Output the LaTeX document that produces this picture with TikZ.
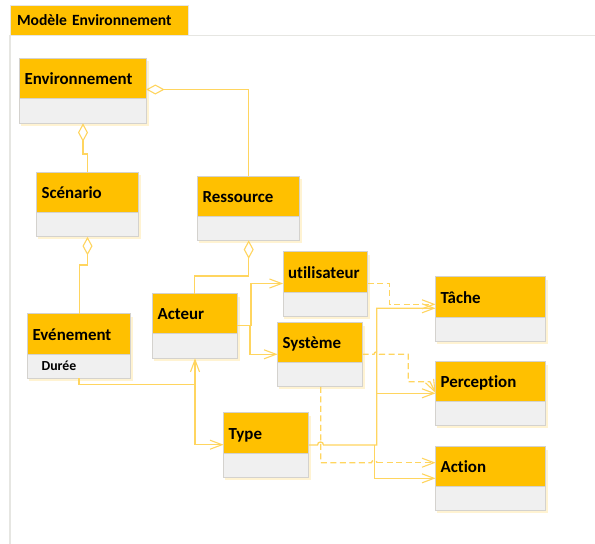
\documentclass[tikz,border=0pt]{standalone}
\usepackage{fontspec}
\setmainfont[Ligatures=NoCommon]{Carlito}
\usetikzlibrary{arrows.meta}
\definecolor{hdr}{HTML}{FFC000}
\definecolor{bdy}{HTML}{F0F0F0}
\definecolor{edge}{HTML}{D4D2CE}
\definecolor{wire}{HTML}{FFD55F}
\definecolor{glow}{HTML}{FFF3D2}
\definecolor{frameline}{HTML}{E6E6E2}
\tikzset{
  x=1pt,y=-1pt,
  hdrbox/.style={draw=edge,line width=0.9pt,fill=hdr,anchor=north west,outer sep=0pt,inner xsep=5pt,inner ysep=0pt,
    text height=14pt,text depth=2pt,font=\fontsize{16.9}{18}\selectfont\bfseries,align=left},
  bdybox/.style={draw=edge,line width=0.9pt,fill=bdy,anchor=north west,outer sep=0pt,inner xsep=14pt,inner ysep=0pt,
    text height=11pt,text depth=3pt,font=\fontsize{13.8}{15}\selectfont\bfseries,align=left},
  conn/.style={draw=wire,line width=1.3pt,line join=miter},
  dep/.style={conn,dash pattern=on 6pt off 3.5pt},
  vee/.style={-{Straight Barb[length=12pt,width=9pt,line width=1.1pt]}},
  dia/.style={{Diamond[open,fill=white,length=18.5pt,width=10pt,line width=1.1pt]}-}
}
\newcommand{\umlbox}[7]{%
  % name, x, y, width, header height, body height, title
  \fill[glow] (#2+0.5,#3+3) rectangle (#2+#4+2,#3+#5+#6+2.5);
  \node[hdrbox,text width=#4pt-10pt,minimum height=#5pt] (#1) at (#2-0.4,#3+0.3) {#7};
  \node[bdybox,minimum width=#4pt,minimum height=#6pt,text width=#4pt-28pt] (#1b) at (#2-0.4,#3+#5+0.3) {};
}
\begin{document}
\begin{tikzpicture}
\useasboundingbox (0,0) rectangle (595,544);
\fill[white] (0,0) rectangle (595,544);
% package frame
\draw[frameline,line width=1.4pt] (10,544) -- (10,35.5) -- (595,35.5);
\node[draw=frameline,line width=0.9pt,fill=hdr,anchor=north west,outer sep=0pt,inner xsep=7pt,inner ysep=0pt,
  minimum width=178pt,minimum height=30.5pt,text width=164pt,align=left,text height=12pt,text depth=2.5pt,
  font=\fontsize{15.6}{17}\selectfont\bfseries]
  (pkg) at (10,5) {Modèle Environnement};
% classes
\umlbox{env}{20}{58}{126.5}{40.5}{24.5}{Environnement}
\umlbox{sce}{37}{172}{101.5}{40}{24.5}{Scénario}
\umlbox{res}{198}{176}{102}{40}{24}{Ressource}
\umlbox{acteur}{153}{293.5}{84.5}{40}{24.5}{Acteur}
\umlbox{util}{283.5}{251.5}{84.5}{40.5}{24.5}{utilisateur}
\umlbox{sys}{278}{322.5}{85}{40}{24}{Système}
\umlbox{typ}{224}{412.5}{85}{40.5}{24}{Type}
\umlbox{tache}{436}{276.5}{110}{40.5}{24}{Tâche}
\umlbox{perc}{436}{361.5}{110}{40}{24}{Perception}
\umlbox{act}{436}{446.5}{110}{40}{24}{Action}
% Evenement, with its attribute
\fill[glow] (28.5,316.5) rectangle (132.5,380.5);
\node[hdrbox,text width=92.5pt,minimum height=40.5pt] (evt) at (27.6,313.8) {Evénement};
\node[bdybox,minimum width=102.5pt,minimum height=24pt,text width=74.5pt] (evtb) at (27.6,354.3) {Durée};
% aggregations
\draw[conn,dia] (envb.south -| 83,0) -- (83,154) -- (87.5,154) -- (sce.north -| 87.5,0);
\draw[conn,dia] (env.east |- 0,89.5) -- (248.5,89.5) -- (res.north -| 248.5,0);
\draw[conn,dia] (sceb.south -| 87.5,0) -- (87.5,265) -- (79.5,265) -- (evt.north -| 79.5,0);
\draw[conn,dia] (resb.south -| 248.7,0) -- (248.7,276) -- (194.7,276) -- (acteur.north -| 194.7,0);
% associations
\draw[conn,vee] (acteur.east |- 0,325.7) -- (251,325.7) -- (251,283.5) -- (util.west |- 0,283.5);
\draw[conn,vee] (250,325.7) -- (250,354.3) -- (sys.west |- 0,354.3);
\draw[conn,vee] (evtb.south -| 79,0) -- (79,384.7) -- (195,384.7) -- (acteurb.south -| 195,0);
\draw[conn,vee] (195,384.7) -- (195,444.7) -- (typ.west |- 0,444.7);
\draw[conn,vee] (typ.east |- 0,445) -- (317.5,445) .. controls (317.5,441) and (323.5,441) .. (323.5,445)
  -- (376.7,445) -- (376.7,308.3) -- (tache.west |- 0,308.3);
\draw[conn,vee] (376.7,393.3) -- (perc.west |- 0,393.3);
\draw[conn,vee] (374.3,445) -- (374.3,478.3) -- (act.west |- 0,478.3);
% dependencies
\draw[dep,vee] (util.east |- 0,283.3) -- (389.3,283.3) -- (389.3,304.3) -- (tache.west |- 0,304.3);
\draw[dep] (sys.east |- 0,354.3) -- (374,354.3) .. controls (374,351) and (379.5,351) .. (379.5,354.3)
  -- (408.3,354.3) -- (408.3,381.7) -- (430,381.7);
\draw[conn,vee] (430,381.7) -- (perc.west |- 0,393);
\draw[dep] (sysb.south -| 320.7,0) -- (320.7,462.7) -- (371.5,462.7)
  .. controls (371.5,459.5) and (377,459.5) .. (377,462.7);
\draw[dep,vee] (377,462.7) -- (act.west |- 0,462.7);
\end{tikzpicture}
\end{document}
